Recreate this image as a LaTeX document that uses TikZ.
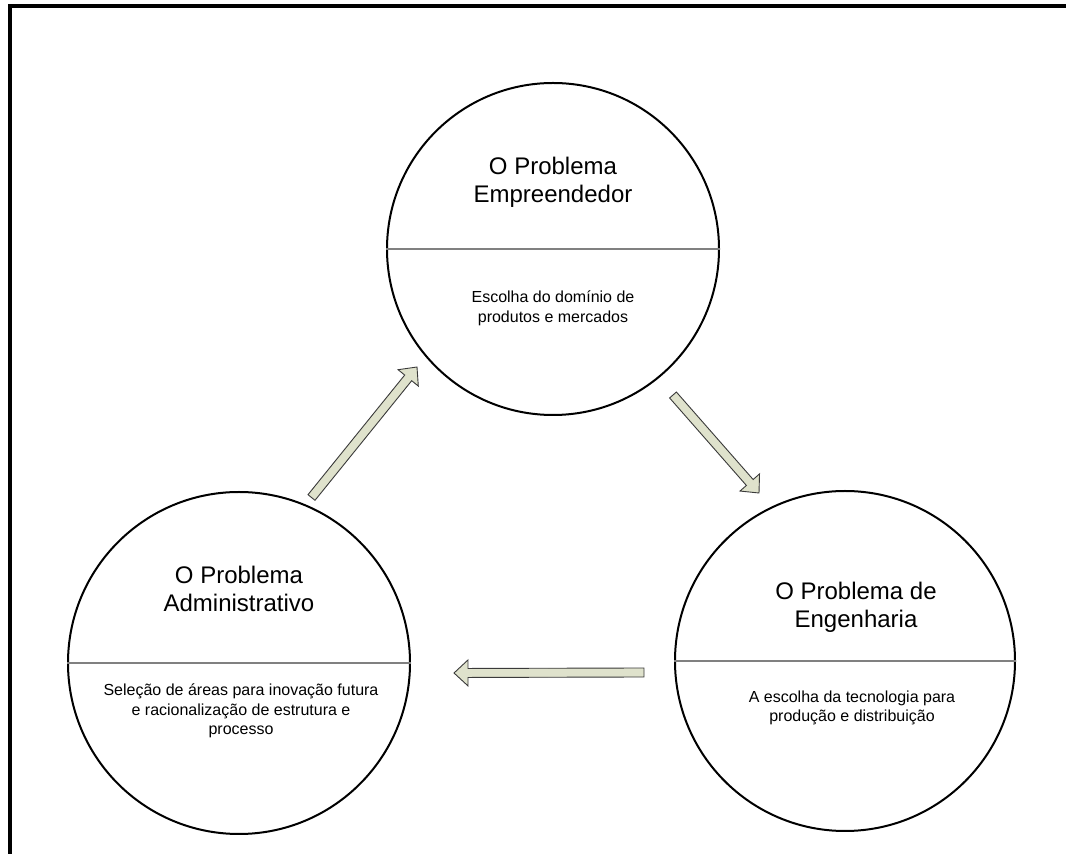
\documentclass[tikz,border=0pt]{standalone}
\usepackage{fontspec}
\setmainfont{Liberation Sans}
\usetikzlibrary{calc}
\definecolor{arrowfill}{HTML}{DFE2CC}
\definecolor{arrowline}{HTML}{3A3A3A}
\definecolor{dividergray}{HTML}{808080}
\tikzset{
  phase/.style={circle, draw=black, line width=1pt, inner sep=0pt, minimum size=#1},
  divider/.style={draw=dividergray, line width=0.65pt},
  titletext/.style={align=center, font=\fontsize{12pt}{14pt}\selectfont},
  subtext/.style={align=center, font=\fontsize{8pt}{9.8pt}\selectfont},
  blockarrowstyle/.style={fill=arrowfill, draw=arrowline, line width=0.45pt, line join=miter},
  frameline/.style={draw=black, line width=2pt}
}
\newcommand{\blockarrow}[2]{%
  \coordinate (ba-c) at ($(#2)!7pt!(#1)$);
  \filldraw[blockarrowstyle] ($(#1)!2.25pt!90:(#2)$) -- ($(ba-c)!2.25pt!90:(#2)$) --
    ($(ba-c)!6.5pt!90:(#2)$) -- (#2) -- ($(ba-c)!6.5pt!-90:(#2)$) --
    ($(ba-c)!2.25pt!-90:(#2)$) -- ($(#1)!2.25pt!-90:(#2)$) -- cycle;}
\begin{document}
\begin{tikzpicture}[x=0.5pt, y=-0.5pt]
  \clip (0,0) rectangle (1066,854);
  \fill[white] (0,0) rectangle (1066,854);
  % frame
  \coordinate (fr-tl) at (10,6);
  \coordinate (fr-tr) at (1080,6);
  \coordinate (fr-bl) at (10,870);
  \draw[frameline] (fr-tr) -- (fr-tl) -- (fr-bl);

  % circles
  \node[phase=166pt] (ent) at (553,249) {};
  \node[phase=171pt] (adm) at (239,663) {};
  \node[phase=170pt] (eng) at (845,661) {};
  \draw[divider] (ent.west) -- (ent.east);
  \draw[divider] (adm.west) -- (adm.east);
  \draw[divider] (eng.west) -- (eng.east);

  % texts
  \node[titletext] (ent-t) at (553,182) {O Problema\\Empreendedor};
  \node[subtext] (ent-s) at (553,308) {Escolha do domínio de\\produtos e mercados};
  \node[titletext] (adm-t) at (239,589) {O Problema\\Administrativo};
  \node[subtext] (adm-s) at (241,711) {Seleção de áreas para inovação futura\\e racionalização de estrutura e\\processo};
  \node[titletext] (eng-t) at (856,607) {O Problema de\\Engenharia};
  \node[subtext] (eng-s) at (852,708) {A escolha da tecnologia para\\produção e distribuição};

  % arrows
  \coordinate (a1s) at (311.5,497.5);
  \coordinate (a1e) at (417,367);
  \coordinate (a2s) at (673,395);
  \coordinate (a2e) at (759,493);
  \coordinate (a3s) at (644,672.5);
  \coordinate (a3e) at (454,673);
  \blockarrow{a1s}{a1e}
  \blockarrow{a2s}{a2e}
  \blockarrow{a3s}{a3e}
\end{tikzpicture}
\end{document}
